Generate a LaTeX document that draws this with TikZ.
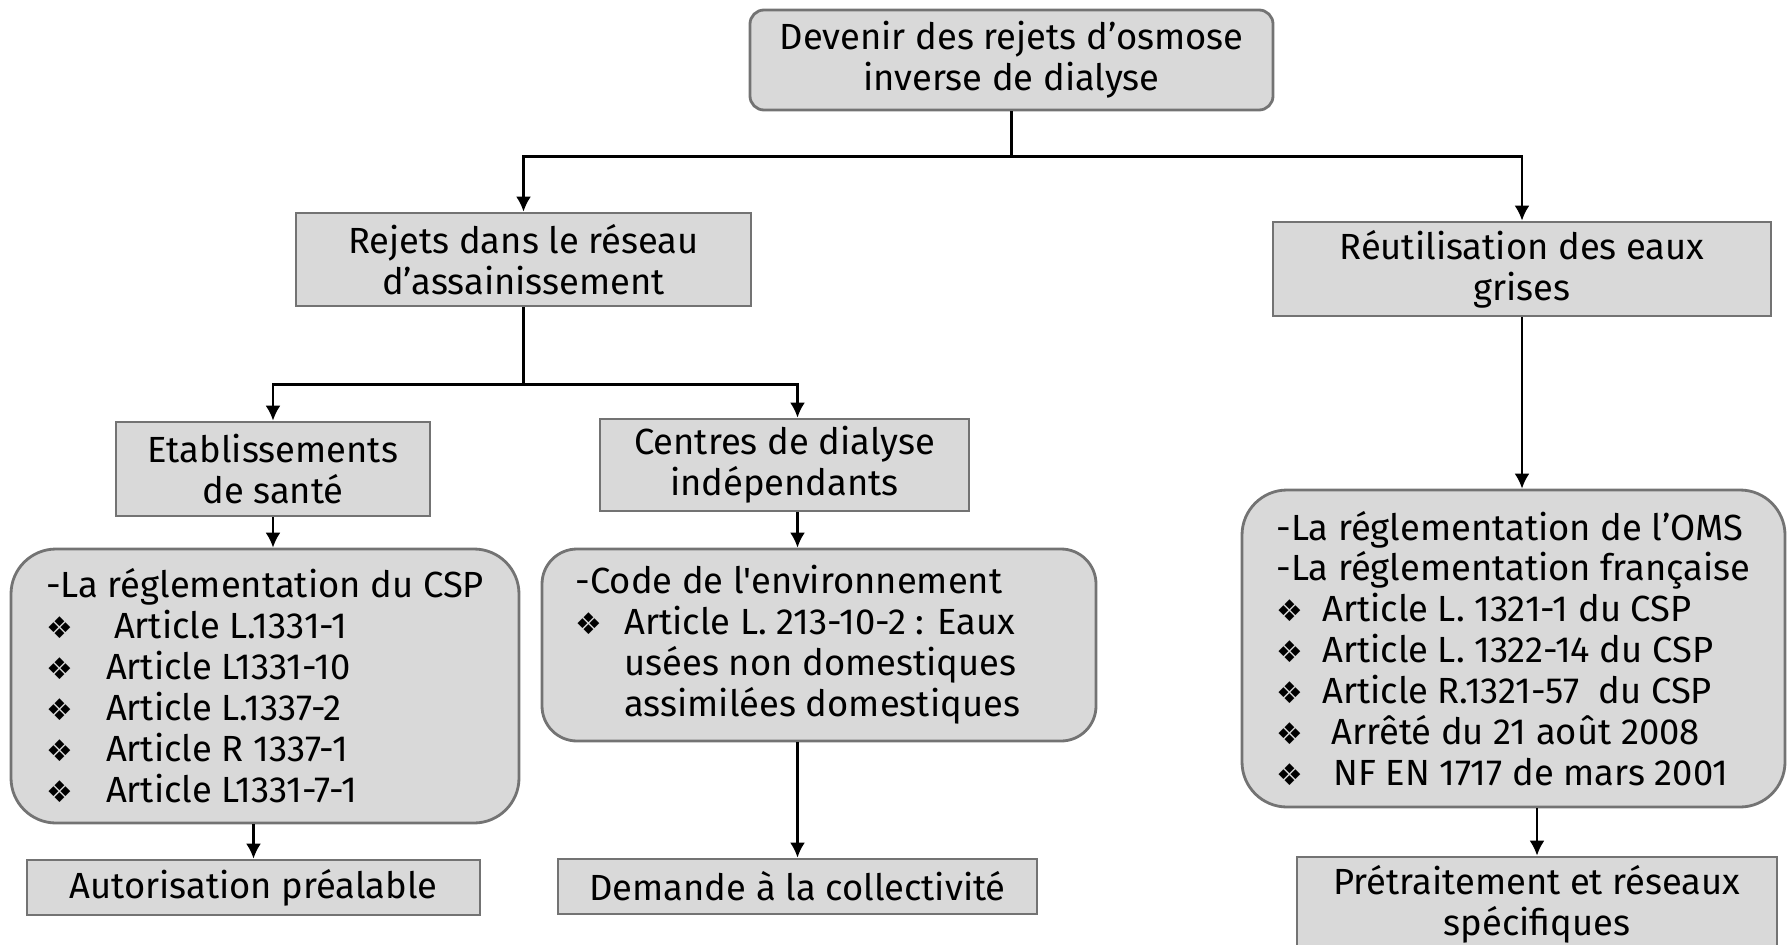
\documentclass[tikz,border=0pt]{standalone}
\usepackage{fontspec}
\newfontfamily\boxfont{Fira Sans}
\newfontfamily\symfont{DejaVu Sans}
\usetikzlibrary{arrows.meta}
\newcommand{\puce}[1][1.1cm]{\makebox[#1][l]{\symfont\fontsize{17}{17}\selectfont ❖}}

\begin{document}
\begin{tikzpicture}[>={Latex[length=0.3cm,width=0.3cm]}]
        \tikzset{block/.style= {draw=black!55, fill=black!15, line width=1.6pt, rectangle, align=center, inner sep=0pt, font=\boxfont\fontsize{20.7}{23.3}\selectfont},
        rblock/.style={block, rounded corners=0.9cm, align=left},
        link/.style={line width=1.3pt},
        }
        \useasboundingbox (0,0) rectangle (35.74,-18.88);
        \node [block, rounded corners=0.28cm, minimum width=10.46cm, minimum height=2cm] (devenir) at (20.23,-1.20) {Devenir des rejets d’osmose\\inverse de dialyse};
        \node [block, minimum width=9.10cm, minimum height=1.86cm] (rejets) at (10.47,-5.19) {Rejets dans le réseau\\d’assainissement};
        \node [block, minimum width=9.96cm, minimum height=1.88cm] (reutil) at (30.44,-5.38) {Réutilisation des eaux\\grises};
        \node [block, minimum width=6.28cm, minimum height=1.88cm] (etab) at (5.46,-9.38) {Etablissements\\de santé};
        \node [block, minimum width=7.38cm, minimum height=1.84cm] (centres) at (15.69,-9.30) {Centres de dialyse\\indépendants};
        \node [rblock, minimum width=10.16cm, minimum height=5.48cm] (csp) at (5.30,-13.72) {-La réglementation du CSP\\
            \puce[1.2cm]\hspace{0.16cm}Article L.1331-1\\
            \puce[1.2cm]Article L1331-10\\
            \puce[1.2cm]Article L.1337-2\\
            \puce[1.2cm]Article R 1337-1\\
            \puce[1.2cm]Article L1331-7-1};
        \node [rblock, rounded corners=0.7cm, minimum width=11.08cm, minimum height=3.84cm] (code) at (16.38,-12.90) {-Code de l'environnement\\
            \puce[0.98cm]Article L. 213-10-2 : Eaux\\
            \hspace*{0.98cm}usées non domestiques\\
            \hspace*{0.98cm}assimilées domestiques\hspace*{0.85cm}};
        \node [rblock, minimum width=10.86cm, minimum height=6.34cm] (oms) at (30.27,-12.97) {-La réglementation de l’OMS\\
            -La réglementation française\\
            \puce[0.92cm]Article L. 1321-1 du CSP\\
            \puce[0.92cm]Article L. 1322-14 du CSP\\
            \puce[0.92cm]Article R.1321-57 \ du CSP\\
            \puce[0.92cm]\hspace{0.18cm}Arrêté du 21 août 2008\\
            \puce[0.92cm]\hspace{0.22cm}NF EN 1717 de mars 2001};
        \node [block, minimum width=9.06cm, minimum height=1.10cm] (autor) at (5.07,-17.75) {Autorisation préalable};
        \node [block, minimum width=9.58cm, minimum height=1.10cm] (demande) at (15.95,-17.73) {Demande à la collectivité};
        \node [block, minimum width=9.60cm, minimum height=1.88cm] (pretrait) at (30.74,-18.08) {Prétraitement et réseaux\\spécifiques};
%% paths
        \draw[link] (devenir.south) -- ++(0,-0.9) coordinate (split1);
        \draw[link,->] (split1) -| (rejets.north);
        \draw[link,->] (split1) -| (reutil.north);
        \draw[link] (rejets.south) -- ++(0,-1.54) coordinate (split2);
        \draw[link,->] (split2) -| (etab.north);
        \draw[link,->] (split2) -| (demande.north |- centres.north);
        \draw[link,->] (etab.south) -- (etab.south |- csp.north);
        \draw[link,->] (centres.south -| demande.north) -- (code.north -| demande.north);
        \draw[link,->] (reutil.south) -- (reutil.south |- oms.north);
        \draw[link,->] (autor.north |- csp.south) -- (autor.north);
        \draw[link,->] (demande.north |- code.south) -- (demande.north);
        \draw[link,->] (pretrait.north |- oms.south) -- (pretrait.north);
    \end{tikzpicture}
\end{document}
